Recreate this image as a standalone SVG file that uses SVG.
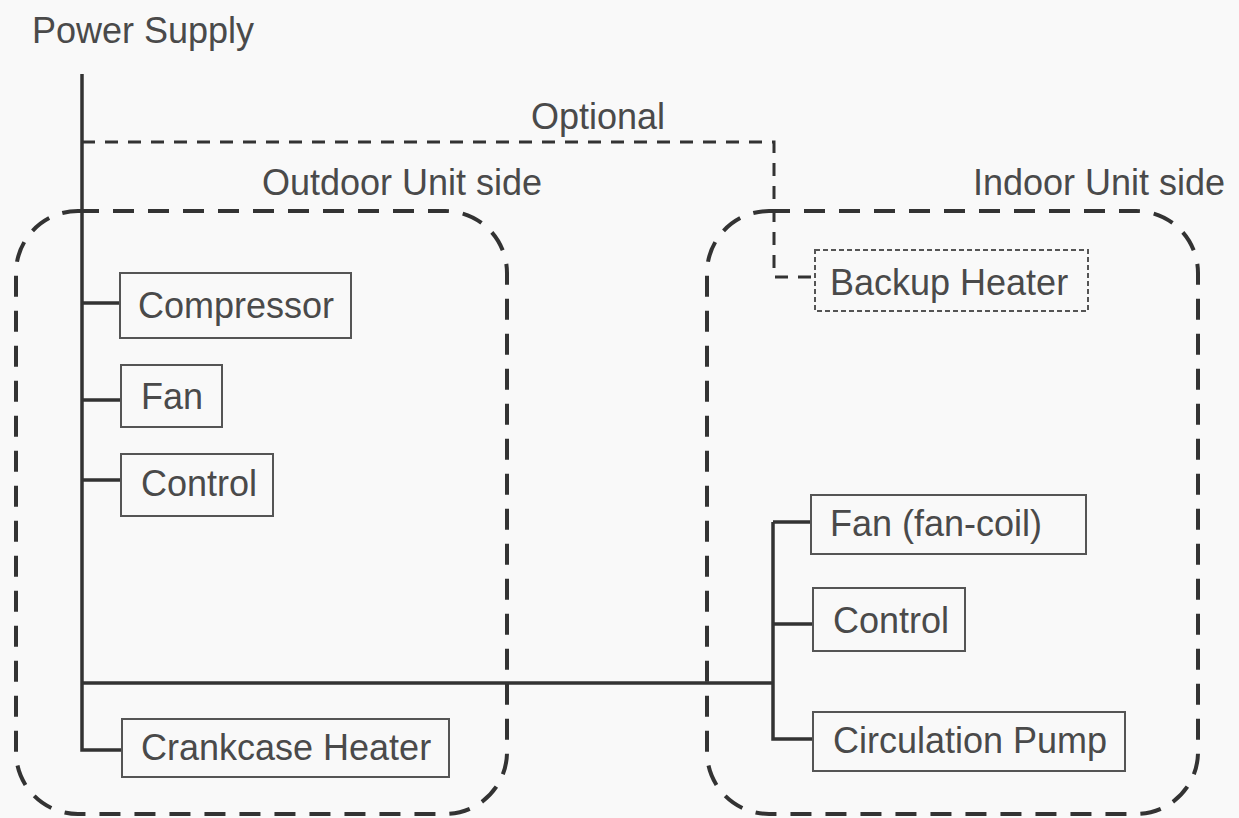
<svg xmlns="http://www.w3.org/2000/svg" width="1239" height="818" viewBox="0 0 1239 818">
<style>
text{font-family:"Liberation Sans",Arial,sans-serif;font-size:36px;fill:#4a4a4a}
.box{fill:none;stroke:#555;stroke-width:2}
.wire{fill:none;stroke:#333;stroke-width:3.5}
.opt{fill:none;stroke:#333;stroke-width:3;stroke-dasharray:13 10}
.zone{fill:none;stroke:#333;stroke-width:4;stroke-dasharray:21 14}
.dot{fill:none;stroke:#555;stroke-width:2;stroke-dasharray:5 3}
</style>
<rect x="0" y="0" width="1239" height="818" fill="#f9f9f9"/>
<g id="labels">
<text x="32" y="43">Power Supply</text>
<text x="598" y="129" text-anchor="middle">Optional</text>
<text x="262" y="195">Outdoor Unit side</text>
<text x="973" y="195">Indoor Unit side</text>
</g>
<g id="outdoor-zone"><rect class="zone" x="16" y="211" width="491" height="603" rx="62" ry="62"/></g>
<g id="indoor-zone"><rect class="zone" x="707" y="211" width="491" height="603" rx="62" ry="62"/></g>
<g id="connectors">
<path class="wire" d="M82 74V750H122"/>
<path class="wire" d="M82 303H120M82 400H121M82 480H121"/>
<path class="wire" d="M82 683H773M773 522V739H813M773 522H811M773 624H813"/>
<path class="opt" d="M82 142H774V277H812"/>
</g>
<g id="compressor"><rect class="box" x="120" y="273" width="231" height="65"/><text x="138" y="318">Compressor</text></g>
<g id="fan"><rect class="box" x="121" y="365" width="101" height="62"/><text x="141" y="409">Fan</text></g>
<g id="control-out"><rect class="box" x="121" y="454" width="152" height="62"/><text x="141" y="496">Control</text></g>
<g id="crankcase-heater"><rect class="box" x="122" y="719" width="327" height="58"/><text x="141" y="760">Crankcase Heater</text></g>
<g id="backup-heater"><rect class="dot" x="815" y="250" width="273" height="61"/><text x="830" y="295">Backup Heater</text></g>
<g id="fan-coil"><rect class="box" x="811" y="495" width="275" height="59"/><text x="830" y="536">Fan (fan-coil)</text></g>
<g id="control-in"><rect class="box" x="813" y="588" width="152" height="63"/><text x="833" y="633">Control</text></g>
<g id="circulation-pump"><rect class="box" x="813" y="712" width="312" height="59"/><text x="833" y="753">Circulation Pump</text></g>
</svg>
